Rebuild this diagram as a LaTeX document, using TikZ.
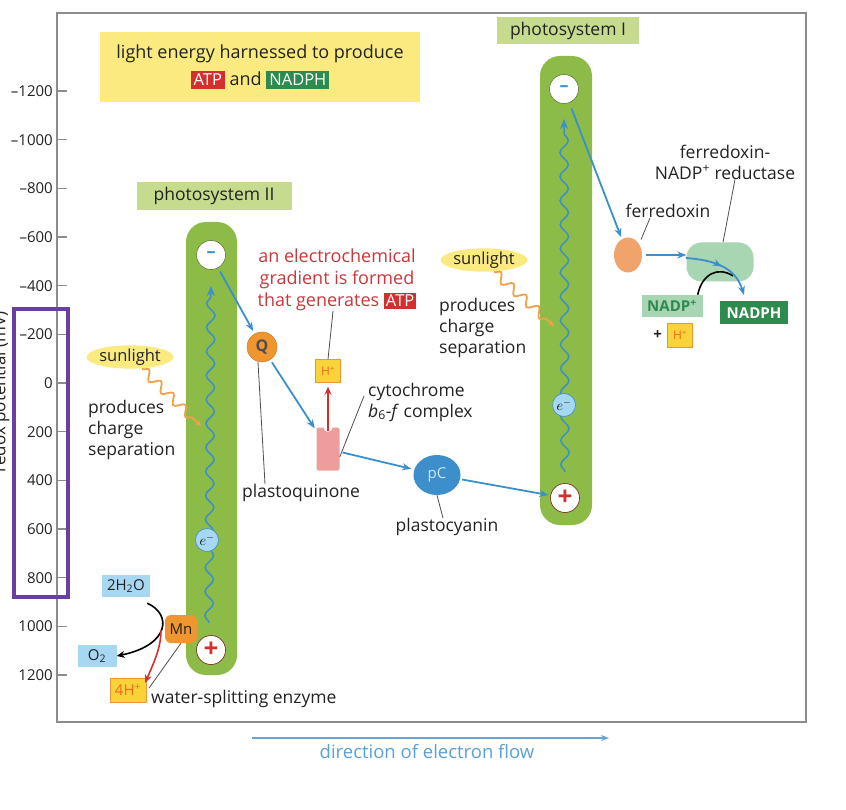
\documentclass[tikz,border=0pt]{standalone}
\usepackage{fontspec}
\setmainfont{Open Sans}
\usetikzlibrary{arrows.meta,decorations.pathmorphing,decorations.markings,positioning,shapes.geometric}
\definecolor{leaf}{HTML}{8CBB47}
\definecolor{leaflabel}{HTML}{C6DB8E}
\definecolor{sunny}{HTML}{FBEA80}
\definecolor{atpred}{HTML}{D42F2F}
\definecolor{nadphgreen}{HTML}{2E8B4E}
\definecolor{flow}{HTML}{3D8FCC}
\definecolor{gradred}{HTML}{C8373B}
\definecolor{carrot}{HTML}{F0962F}
\definecolor{blush}{HTML}{EE9C9C}
\definecolor{sky}{HTML}{A7D8F3}
\definecolor{mint}{HTML}{A8D5B2}
\definecolor{violet}{HTML}{6B3FA0}
\definecolor{framegray}{HTML}{8C8C8C}
\definecolor{ink}{HTML}{222222}
\definecolor{peach}{HTML}{F0A36B}
\definecolor{hyellow}{HTML}{F8D33A}
\definecolor{sunorange}{HTML}{EFA24A}
\tikzset{axisframe/.style={draw=framegray,line width=1.3pt}, ticklabel/.style={font=\fontsize{15}{18}\selectfont,text=ink,inner sep=1pt}, column/.style={fill=leaf,rounded corners=20pt}, pslabel/.style={fill=leaflabel,minimum height=28pt,inner sep=0pt,font=\fontsize{17.5}{20}\selectfont,text=ink}, note/.style={font=\fontsize{17.5}{21}\selectfont,text=ink,align=left,inner sep=0pt}, leader/.style={draw=ink!80,line width=.8pt}, flowarrow/.style={draw=flow,line width=1.8pt,-{Stealth[length=9pt,width=7pt]}}, wave/.style={draw=flow,line width=1.5pt,decorate,decoration={snake,amplitude=4.2pt,segment length=24pt,post length=9pt},-{Stealth[length=10pt,width=8pt]}}, sunwave/.style={draw=sunorange,line width=1.8pt,decorate,decoration={snake,amplitude=4.5pt,segment length=17pt,post length=6pt},-{Stealth[length=6pt,width=6pt]}}, sunspot/.style={ellipse,fill=sunny,minimum width=83pt,minimum height=21pt,inner sep=0pt,font=\fontsize{16.5}{18}\selectfont,text=ink}, minusdot/.style={circle,fill=white,draw=leaf!60!black,line width=.5pt,minimum size=29pt,inner sep=0pt,text=flow,font=\fontsize{18}{18}\selectfont\bfseries}, plusdot/.style={circle,fill=white,draw=atpred!60!black,line width=.6pt,minimum size=29pt,inner sep=0pt,text=atpred,font=\fontsize{26}{26}\selectfont\bfseries}, electron/.style={circle,fill=sky,draw=flow,line width=.6pt,minimum size=23pt,inner sep=0pt,font=\fontsize{14}{14}\selectfont}, chip/.style={inner sep=0pt,font=\fontsize{15}{17}\selectfont}, protonchip/.style={chip,fill=hyellow,draw=carrot,line width=.5pt,text=carrot!70!red}, waterchip/.style={chip,fill=sky,text=ink}, reactline/.style={draw=black,line width=1.6pt,-{Stealth[length=8pt,width=7pt]}}}

\begin{document}
\begin{tikzpicture}[x=1pt,y=-1pt]
\useasboundingbox (0,0) rectangle (846,810);
% frame and redox axis
\draw[axisframe] (57,13) rectangle (806,722);
\foreach \v/\lab in {-1200/{–1200},-1000/{–1000},-800/{–800},-600/{–600},-400/{–400},-200/{–200},0/0,200/200,400/400,600/600,800/800,1000/1000,1200/1200}{
 \pgfmathsetmacro{\yy}{383+0.2433*\v}
 \draw[axisframe] (57,\yy) -- (67,\yy);
 \node[ticklabel,anchor=east] at (54,\yy) {\lab};
}
\node[rotate=90,font=\fontsize{17}{18}\selectfont,text=ink] (axisname) at (1,392) {redox potential (mV)};
\draw[draw=violet,line width=3.5pt] (14,309) rectangle (68,597);
% headline box
\node[fill=sunny,minimum width=320pt,minimum height=70pt,align=center,font=\fontsize{18}{27}\selectfont,text=ink] (headline) at (260,67) {light energy harnessed to produce\\{\setlength\fboxsep{3pt}\colorbox{atpred}{\textcolor{white}{\fontsize{16.5}{18}\selectfont ATP}}} and {\setlength\fboxsep{3pt}\colorbox{nadphgreen}{\textcolor{white}{\fontsize{16.5}{18}\selectfont NADPH}}}};
% photosystem II
\node[pslabel,minimum width=155pt] (psiilabel) at (214,196) {photosystem II};
\fill[column] (186,222) rectangle (237,675);
\draw[wave] (209,623) -- (211,286);
\node[minusdot] (psiiminus) at (211,255) {–};
\node[plusdot] (psiiplus) at (211,650) {+};
\node[electron] (psiie) at (207,540) {$e^{-}$};
\node[sunspot] (psiisun) at (130,357) {sunlight};
\coordinate (psiihit) at (201,426);
\draw[sunwave] (psiisun.south) ++(12,0) -- (psiihit);
\node[note,anchor=west] (psiinote) at (88,430) {produces\\charge\\separation};
% water splitting
\node[chip,fill=carrot,rounded corners=6pt,minimum width=32pt,minimum height=28pt,text=ink] (Mn) at (181,629) {Mn};
\node[waterchip,minimum width=48pt,minimum height=22pt] (water) at (126,586) {2H\textsubscript{2}O};
\node[waterchip,minimum width=39pt,minimum height=22pt] (oxygen) at (97,656) {O\textsubscript{2}};
\node[protonchip,minimum width=36pt,minimum height=24pt] (fourH) at (128,690) {4H\textsuperscript{+}};
\draw[reactline] (water.south east) ++(-3,6) .. controls (172,614) and (170,645) .. (oxygen.east);
\draw[draw=atpred,line width=1.6pt,-{Stealth[length=8pt,width=7pt]}] (161,630) .. controls (161,648) and (154,662) .. ([xshift=-1pt,yshift=-5pt]fourH.north east);
\node[note,anchor=west] (splitter) at (151,699) {water-splitting enzyme};
\draw[leader] (Mn.south) -- ([xshift=-2pt,yshift=2pt]splitter.north west);
% plastoquinone and cytochrome
\node[circle,fill=carrot,draw=carrot!80!black,line width=.4pt,minimum size=30pt,inner sep=0pt,font=\fontsize{16}{16}\selectfont\bfseries,text=ink!80] (Q) at (262,347) {Q};
\draw[flowarrow,shorten <=4pt,shorten >=3pt] (psiiminus) -- (Q);
\node[fill=blush,rounded corners=2pt,minimum width=23pt,minimum height=43pt,inner sep=0pt] (cyt) at (328,449) {};
\fill[white] (cyt.north) circle (4.5pt);
\draw[flowarrow,shorten <=3pt,shorten >=3pt] (Q) -- (cyt);
\node[protonchip,minimum width=25pt,minimum height=23pt,font=\fontsize{12}{14}\selectfont] (Hcyt) at (328,371) {H\textsuperscript{+}};
\draw[draw=atpred,line width=1.8pt,-{Stealth[length=8pt,width=7pt]}] ([yshift=-4pt]cyt.north) -- ([yshift=-4pt]Hcyt.south);
\node[font=\fontsize{18}{22}\selectfont,text=gradred,align=center,inner sep=0pt] (gradient) at (337,280) {an electrochemical\\gradient is formed\\that generates {\setlength\fboxsep{2pt}\colorbox{atpred}{\textcolor{white}{\fontsize{16.5}{18}\selectfont ATP}}}};
\draw[leader] ([xshift=-4pt]gradient.south) -- (Hcyt.north);
\node[note,anchor=west] (cytname) at (368,402) {cytochrome\\\textit{b}\textsubscript{6}-\textit{f} complex};
\draw[leader] ([yshift=-8pt]cyt.east) -- ([xshift=-4pt,yshift=6pt]cytname.west);
\node[note] (pqname) at (301,493) {plastoquinone};
\draw[leader] ([xshift=-4pt]Q.south) -- ([xshift=-36pt]pqname.north);
% plastocyanin
\node[ellipse,fill=flow,minimum width=47pt,minimum height=40pt,inner sep=0pt,font=\fontsize{15}{15}\selectfont,text=sky!60!white] (pC) at (437,475) {pC};
\draw[flowarrow,shorten <=3pt,shorten >=3pt] (cyt) -- (pC);
\node[note] (pcname) at (447,527) {plastocyanin};
\draw[leader] (pC.south) -- ([xshift=-4pt]pcname.north);
% photosystem I
\node[pslabel,minimum width=142pt,minimum height=27pt] (psilabel) at (568,31) {photosystem I};
\fill[column] (540,56) rectangle (592,525);
\draw[wave] (565,472) -- (564,119);
\node[minusdot] (psiminus) at (564,89) {–};
\node[plusdot] (psiplus) at (565,498) {+};
\node[electron] (psie) at (564,405) {$e^{-}$};
\draw[flowarrow,shorten <=2pt,shorten >=2pt] (pC) -- (psiplus);
\node[sunspot,minimum width=82pt,minimum height=23pt] (psisun) at (484,260) {sunlight};
\coordinate (psihit) at (554,326);
\draw[sunwave] (psisun.south) ++(10,0) -- (psihit);
\node[note,anchor=west] (psinote) at (439,328) {produces\\charge\\separation};
% ferredoxin and reductase
\node[ellipse,fill=peach,minimum width=28pt,minimum height=35pt,inner sep=0pt] (fd) at (628,255) {};
\draw[flowarrow,shorten <=6pt,shorten >=2pt] (psiminus) -- (fd);
\node[note] (fdname) at (668,211) {ferredoxin};
\draw[leader] ([xshift=3pt,yshift=3pt]fd.north east) -- ([xshift=-18pt]fdname.south);
\node[fill=mint,rounded corners=15pt,minimum width=67pt,minimum height=39pt] (fnr) at (720,262) {};
\node[note,align=center] (fnrname) at (725,162) {ferredoxin-\\NADP\textsuperscript{+} reductase};
\draw[leader] ([xshift=10pt]fnrname.south) -- ([xshift=3pt]fnr.north);
\node[chip,fill=mint,minimum width=61pt,minimum height=22pt,text=nadphgreen,font=\fontsize{15}{17}\selectfont\bfseries] (nadpplus) at (672,306) {NADP\textsuperscript{+}};
\node[chip,fill=nadphgreen,minimum width=68pt,minimum height=23pt,text=white,font=\fontsize{15}{17}\selectfont\bfseries] (nadph) at (754,313) {NADPH};
\node[protonchip,minimum width=25pt,minimum height=24pt,font=\fontsize{12}{14}\selectfont] (Hfnr) at (680,335) {H\textsuperscript{+}};
\node[font=\fontsize{15}{15}\selectfont\bfseries,text=ink,left=5pt of Hfnr,inner sep=0pt] (plussign) {+};
\draw[flowarrow] ([xshift=4pt]fd.east) -- (fd -| fnr.west);
\coordinate (fnrin) at (686,258);
\coordinate (fnrout) at (744,295);
\draw[draw=black,line width=1.6pt] ([xshift=-5pt]nadpplus.north east) .. controls (702,274) and (718,266) .. (733,276);
\draw[flowarrow,postaction={decorate},decoration={markings,mark=at position .5 with {\arrow{Stealth[length=9pt,width=7pt]}}}] (fnrin) .. controls (712,260) and (735,266) .. (fnrout);
% direction of flow
\coordinate (flowstart) at (252,738);
\coordinate (flowend) at (609,738);
\draw[draw=flow!80!white,line width=1.6pt,-{Stealth[length=8pt,width=6pt]}] (flowstart) -- (flowend);
\node[font=\fontsize{18.5}{20}\selectfont,text=flow!85!white] (flowname) at (427,752) {direction of electron flow};
\end{tikzpicture}
\end{document}
